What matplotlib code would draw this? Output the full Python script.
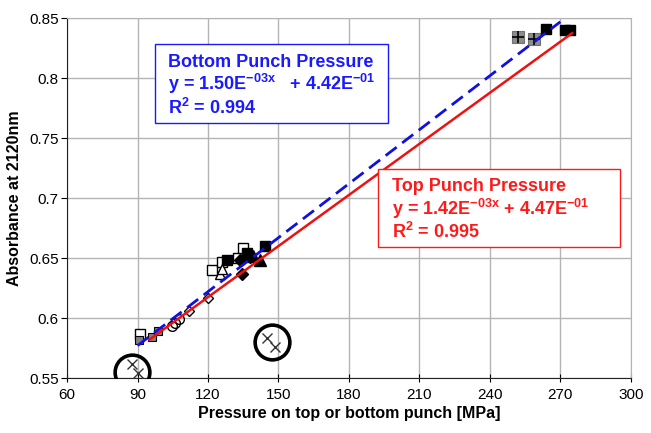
import matplotlib.pyplot as plt
from matplotlib.patches import Rectangle
import numpy as np

plt.rcParams['font.family'] = ['Liberation Sans', 'DejaVu Sans']
plt.rcParams['mathtext.fontset'] = 'custom'
plt.rcParams['mathtext.bf'] = 'Liberation Sans:bold'
plt.rcParams['mathtext.rm'] = 'Liberation Sans:bold'
plt.rcParams['mathtext.default'] = 'bf'

# measured points, grouped by marker type
open_sq_x = [91.1, 121.6, 126.1, 132.9, 135.0]
open_sq_y = [0.587, 0.640, 0.647, 0.650, 0.658]
gray_sq_x = [90.8, 96.3, 98.9]
gray_sq_y = [0.582, 0.584, 0.589]
gray_big_x = [252.0, 258.8]
gray_big_y = [0.834, 0.833]
plus_x = [252.0, 258.8]
plus_y = [0.834, 0.833]
open_circ_x = [104.5, 105.9, 107.8]
open_circ_y = [0.593, 0.596, 0.599]
open_dia_x = [112.0, 120.1]
open_dia_y = [0.606, 0.617]
open_tri_x = [125.1, 126.0]
open_tri_y = [0.637, 0.641]
fill_sq_x = [128.2, 136.5, 144.3, 264.1, 271.9, 274.0]
fill_sq_y = [0.648, 0.654, 0.660, 0.841, 0.840, 0.840]
fill_dia_x = [134.3, 133.6, 137.9]
fill_dia_y = [0.637, 0.648, 0.651]
fill_tri_x = [139.0, 142.1]
fill_tri_y = [0.652, 0.648]
outlier_x = [87.5, 90.3, 145.0, 148.5]
outlier_y = [0.562, 0.554, 0.583, 0.576]
ring_x = [87.5, 147.1]
ring_y = [0.555, 0.580]

# linear fits
bottom_slope, bottom_icpt = 1.50e-3, 4.42e-1
top_slope, top_icpt = 1.42e-3, 4.47e-1
bottom_range = [90, 270]
top_range = [95, 275]

fig = plt.figure(figsize=(6.51, 4.33), dpi=100)
ax = fig.add_axes([0.103, 0.127, 0.866, 0.831])

ax.plot(open_sq_x, open_sq_y, 's', ms=7, mfc='white', mec='black', mew=1, zorder=3)
ax.plot(gray_sq_x, gray_sq_y, 's', ms=6, mfc='#808080', mec='black', mew=0.8, zorder=3)
ax.plot(gray_big_x, gray_big_y, 's', ms=8, mfc='#8c8c8c', mec='#707070', mew=0.8, zorder=3)
ax.plot(plus_x, plus_y, '+', ms=8, mec='black', mew=1.2, zorder=4)
ax.plot(open_circ_x, open_circ_y, 'o', ms=7, mfc='none', mec='black', mew=1, zorder=3)
ax.plot(open_dia_x, open_dia_y, 'D', ms=5.5, mfc='white', mec='black', mew=1, zorder=3)
ax.plot(open_tri_x, open_tri_y, '^', ms=7, mfc='white', mec='black', mew=1, zorder=3)
ax.plot(fill_sq_x, fill_sq_y, 's', ms=7.5, mfc='black', mec='black', zorder=3)
ax.plot(fill_dia_x, fill_dia_y, 'D', ms=6, mfc='black', mec='black', zorder=3)
ax.plot(fill_tri_x, fill_tri_y, '^', ms=8, mfc='black', mec='black', zorder=3)
ax.plot(outlier_x, outlier_y, 'x', ms=7, mec='#333333', mew=1, zorder=3)
ax.plot(ring_x, ring_y, 'o', ms=25, mfc='none', mec='black', mew=2.6, zorder=3)

xb = np.array(bottom_range)
ax.plot(xb, bottom_slope * xb + bottom_icpt, color='#1010e0', lw=2, ls=(0, (5, 2.5)), zorder=5)
xt = np.array(top_range)
ax.plot(xt, top_slope * xt + top_icpt, color='#ee1111', lw=1.8, zorder=5)

ax.set_xlim(60, 300)
ax.set_ylim(0.55, 0.85)
ax.set_xticks(np.arange(60, 301, 30))
ax.set_yticks([0.55, 0.6, 0.65, 0.7, 0.75, 0.8, 0.85])
ax.set_yticklabels(['0.55', '0.6', '0.65', '0.7', '0.75', '0.8', '0.85'])
ax.grid(True, color='#b4b4b4', lw=1)
ax.set_axisbelow(True)
for s in ['top', 'right']:
    ax.spines[s].set_color('#b4b4b4')
for s in ['left', 'bottom']:
    ax.spines[s].set_color('#222222')
ax.tick_params(axis='x', direction='inout', length=6, labelsize=11, pad=4)
ax.tick_params(axis='y', direction='out', length=4, labelsize=11, pad=2)

ax.set_xlabel('Pressure on top or bottom punch [MPa]', fontsize=11.5, fontweight='bold', labelpad=3)
ax.set_ylabel('Absorbance at 2120nm', fontsize=11.5, fontweight='bold', labelpad=5)

blue = '#1a1aff'
red = '#ff1a1a'
# fit annotation boxes (figure coords)
fig.patches.append(Rectangle((0.2381, 0.7159), 0.3579, 0.1824, transform=fig.transFigure,
                             fc='white', ec=blue, lw=1, zorder=6))
fig.patches.append(Rectangle((0.5806, 0.4296), 0.3717, 0.1801, transform=fig.transFigure,
                             fc='white', ec=red, lw=1, zorder=6))
fig.text(0.258, 0.876, 'Bottom Punch Pressure\ny = 1.50E$^{-03x}$   + 4.42E$^{-01}$\nR$^{2}$ = 0.994',
         color=blue, fontsize=13, fontweight='bold', va='top', ha='left', linespacing=1.08, zorder=7)
fig.text(0.602, 0.588, 'Top Punch Pressure\ny = 1.42E$^{-03x}$ + 4.47E$^{-01}$\nR$^{2}$ = 0.995',
         color=red, fontsize=13, fontweight='bold', va='top', ha='left', linespacing=1.08, zorder=7)

fig.savefig('out.png', dpi=100)
